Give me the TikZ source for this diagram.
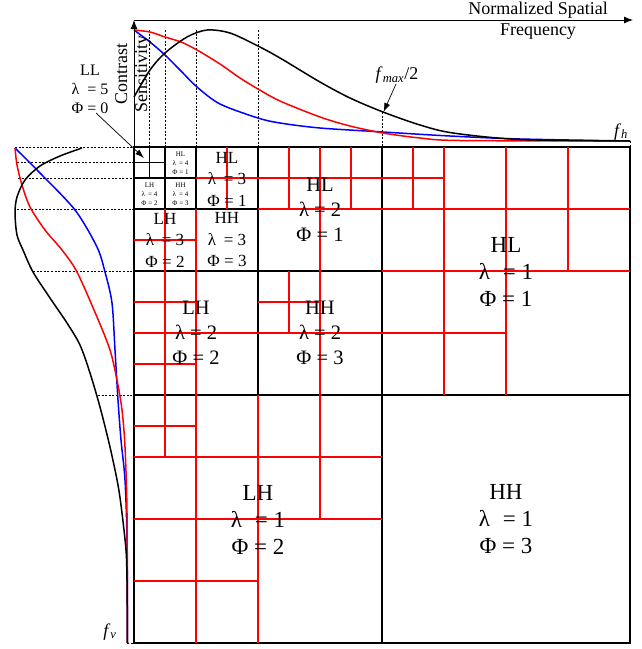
\documentclass[tikz,border=0pt]{standalone}
\usepackage{fontspec}
\setmainfont{Liberation Serif}
\usetikzlibrary{arrows.meta}
\begin{document}
\begin{tikzpicture}[x=1pt,y=-1pt,
  blackline/.style={line width=1.8pt, black},
  redline/.style={line width=1.25pt, red},
  dashln/.style={line width=0.6pt, dash pattern=on 2pt off 1.6pt, black},
  curve/.style={line width=1.5pt},
  axisln/.style={line width=0.9pt, black},
  tipline/.style={line width=0.7pt, -{Latex[length=9pt,width=6pt]}},
  labA/.style={align=center, inner sep=0pt, font=\fontsize{23}{27}\selectfont},
  labB/.style={align=center, inner sep=0pt, font=\fontsize{20.5}{25}\selectfont},
  labC/.style={align=center, inner sep=0pt, font=\fontsize{17}{21.5}\selectfont},
  labD/.style={align=center, inner sep=0pt, font=\fontsize{7}{9}\selectfont},
  labLL/.style={align=center, inner sep=0pt, font=\fontsize{16}{19}\selectfont},
  axtext/.style={inner sep=0pt, font=\fontsize{18}{20}\selectfont},
]
\useasboundingbox (0,0) rectangle (641,649);

% ---------- dashed projection lines ----------
\draw[dashln] (149.5,30) -- (149.5,147);
\draw[dashln] (165,30) -- (165,147);
\draw[dashln] (196,30) -- (196,147);
\draw[dashln] (258,30) -- (258,147);
\draw[dashln] (382,112) -- (382,147);
\draw[dashln] (630,141) -- (630,147);
\draw[dashln] (15,147) -- (134,147);
\draw[dashln] (17,162.5) -- (134,162.5);
\draw[dashln] (18,178) -- (134,178);
\draw[dashln] (17,209) -- (134,209);
\draw[dashln] (33,271) -- (134,271);
\draw[dashln] (98,395) -- (134,395);
\draw[dashln] (127,643) -- (134,643);

% ---------- top sensitivity curves ----------
\draw[curve, blue] plot[smooth] coordinates {(134,30) (150,42) (165,55) (181,71) (197,87) (220,104) (258,118) (280,123) (320,128) (383,132) (450,136) (520,139) (630,141)};
\draw[curve, red] plot[smooth] coordinates {(134,30) (150,32) (165,37) (181,42) (197,50) (220,64) (240,78) (258,89) (280,101) (320,117) (350,126) (383,133) (420,138) (460,140.5) (630,141)};
\draw[curve, black] plot[smooth] coordinates {(134,97) (150,70) (165,53) (187,37) (207,30) (230,33) (258,46) (280,58) (320,82) (350,98) (383,112) (420,125) (453,133) (520,139.5) (630,141)};

% ---------- left sensitivity curves ----------
\draw[curve, blue] plot[smooth] coordinates {(15,148) (40,173) (75,210) (97,247) (105,272) (112,303) (115,350) (118,400) (121,440) (125,480) (127,540) (127.5,643)};
\draw[curve, red] plot[smooth] coordinates {(15,148) (17,165) (22,185) (30,207) (45,230) (62,250) (77,272) (97,317) (110,350) (117,380) (122,410) (125,447) (127,513) (127.5,643)};
\draw[curve, black] plot[smooth] coordinates {(82,148) (60,156) (40,166) (25,180) (17,197) (15,213) (17,235) (23,250) (33,272) (50,298) (67,323) (80,345) (90,373) (100,407) (110,447) (118,485) (122,513) (126,550) (127,580) (127.5,643)};

% ---------- axes ----------
\coordinate (orig) at (134,147);
\coordinate (ytip) at (134,20);
\coordinate (xtip) at (633,20);
\draw[axisln, -{Latex[length=9pt,width=7pt]}] (orig) -- (ytip);
\draw[axisln, -{Latex[length=9pt,width=7pt]}] (134,20) -- (xtip);

% ---------- black subband grid ----------
\draw[blackline] (134,147) rectangle (630,643);
\draw[blackline] (382,147) -- (382,643);
\draw[blackline] (134,395) -- (630,395);
\draw[blackline] (258,147) -- (258,395);
\draw[blackline] (134,271) -- (382,271);
\draw[blackline] (196,147) -- (196,271);
\draw[blackline] (134,209) -- (258,209);
\draw[blackline] (165,147) -- (165,209);
\draw[blackline] (134,178) -- (196,178);
\draw[blackline] (149.5,147) -- (149.5,178);
\draw[blackline] (134,162.5) -- (165,162.5);

% ---------- red lines ----------
\draw[redline] (227,147) -- (227,209);
\draw[redline] (289,147) -- (289,209);
\draw[redline] (351,147) -- (351,209);
\draw[redline] (413,147) -- (413,209);
\draw[redline] (444,147) -- (444,395);
\draw[redline] (506,147) -- (506,395);
\draw[redline] (568,147) -- (568,271);
\draw[redline] (320,147) -- (320,519);
\draw[redline] (289,271) -- (289,333);
\draw[redline] (165,209) -- (165,457);
\draw[redline] (196,209) -- (196,643);
\draw[redline] (258,395) -- (258,643);
\draw[redline] (196,178) -- (444,178);
\draw[redline] (258,209) -- (630,209);
\draw[redline] (382,271) -- (630,271);
\draw[redline] (134,333) -- (506,333);
\draw[redline] (134,240) -- (196,240);
\draw[redline] (134,302) -- (196,302);
\draw[redline] (258,302) -- (320,302);
\draw[redline] (134,364) -- (196,364);
\draw[redline] (134,426) -- (196,426);
\draw[redline] (134,457) -- (382,457);
\draw[redline] (134,519) -- (382,519);
\draw[redline] (134,581) -- (258,581);

% ---------- subband labels ----------
\node[labA] (hl1) at (506,272) {HL\\λ\hspace{0.3em} = 1\\Φ = 1};
\node[labA] (lh1) at (258,520) {LH\\λ\hspace{0.3em} = 1\\Φ = 2};
\node[labA] (hh1) at (506,519) {HH\\λ\hspace{0.3em} = 1\\Φ = 3};
\node[labB] (hl2) at (320,210) {HL\\λ = 2\\Φ = 1};
\node[labB] (lh2) at (196,333) {LH\\λ = 2\\Φ = 2};
\node[labB] (hh2) at (320,333) {HH\\λ = 2\\Φ = 3};
\node[labC] (hl3) at (227,179) {HL\\λ\hspace{0.2em} = 3\\Φ = 1};
\node[labC] (lh3) at (165,240) {LH\\λ\hspace{0.2em} = 3\\Φ = 2};
\node[labC] (hh3) at (227,240) {HH\\λ\hspace{0.2em} = 3\\Φ = 3};
\node[labD] (hl4) at (180.5,163) {HL\\λ\hspace{0.2em} = 4\\Φ = 1};
\node[labD] (lh4) at (149.5,194) {LH\\λ\hspace{0.2em} = 4\\Φ = 2};
\node[labD] (hh4) at (180.5,194) {HH\\λ\hspace{0.2em} = 4\\Φ = 3};

% ---------- LL label and arrow ----------
\node[labLL] (ll5) at (90,89) {LL\\λ\hspace{0.25em} = 5\\Φ = 0};
\coordinate (llfrom) at (96,113);
\coordinate (llto) at (144,158);
\draw[tipline] (llfrom) -- (llto);

% ---------- axis texts ----------
\node[axtext, anchor=base] (nsp) at (538,14.5) {Normalized Spatial};
\node[axtext, anchor=base] (freq) at (538,35) {Frequency};
\node[axtext, rotate=90, align=center] (cs) at (133,74) {Contrast\\Sensitivity};
\node[axtext, anchor=base] (fmax) at (397,79.5) {\textit{f}\textsubscript{\textit{max}}/2};
\coordinate (fmaxfrom) at (396,84);
\coordinate (fmaxto) at (383.5,112);
\draw[tipline] (fmaxfrom) -- (fmaxto);
\node[axtext, anchor=base] (fh) at (621,136) {\textit{f}\textsubscript{\textit{h}}};
\node[axtext, anchor=base] (fv) at (110,636) {\textit{f}\textsubscript{\textit{v}}};
\end{tikzpicture}
\end{document}
